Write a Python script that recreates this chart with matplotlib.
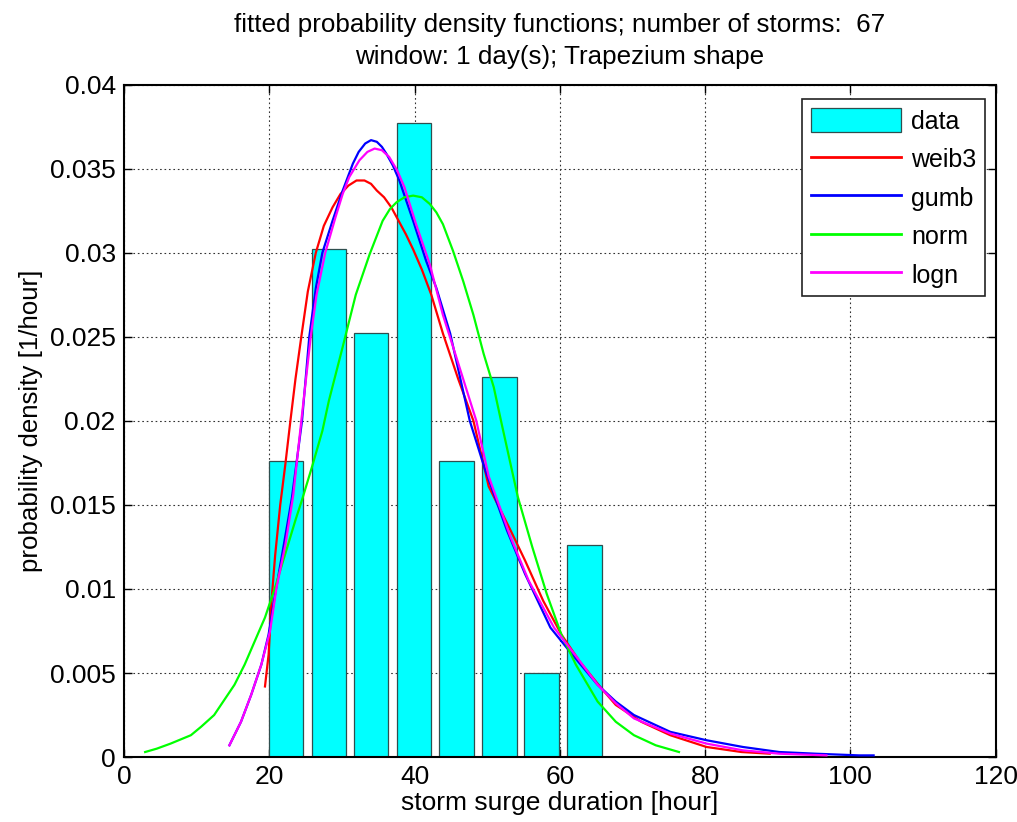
import numpy as np
import matplotlib
matplotlib.use("Agg")
import matplotlib.pyplot as plt
from matplotlib.patches import Patch
from matplotlib.lines import Line2D

plt.rcParams['font.family'] = ['Liberation Sans', 'DejaVu Sans']

# histogram of storm surge durations (density)
bin_centers = [22.3, 28.2, 34.0, 39.9, 45.8, 51.7, 57.5, 63.4]
bin_density = [0.0176, 0.0302, 0.0252, 0.0377, 0.0176, 0.0226, 0.0050, 0.0126]
bar_width = 4.75

# fitted pdfs, points
weib3_x = [19.4, 19.9, 20.3, 20.8, 21.5, 22.2, 22.9, 23.6, 24.4, 25.3, 26.4, 27.5, 28.7,
           29.8, 30.9, 32.0, 33.1, 34.0, 34.8, 35.8, 36.8, 37.8, 38.8, 39.8, 41.0, 42.3,
           43.9, 46.0, 48.1, 50.2, 53.2, 55.2, 57.7, 60.2, 62.7, 65.7, 67.7, 71.2, 75.2,
           80.2, 85.0, 88.9]
weib3_y = [0.0042, 0.0061, 0.0093, 0.0120, 0.0150, 0.0174, 0.0200, 0.0225, 0.0250, 0.0277,
           0.0300, 0.0316, 0.0327, 0.0335, 0.0340, 0.0343, 0.0343, 0.0341, 0.0337, 0.0333,
           0.0327, 0.0319, 0.0311, 0.0302, 0.0290, 0.0275, 0.0252, 0.0225, 0.0200, 0.0161,
           0.0135, 0.0117, 0.0093, 0.0073, 0.0057, 0.0041, 0.0031, 0.0021, 0.0013, 0.0006,
           0.0003, 0.0002]

gumb_x = [14.5, 16.1, 17.5, 18.9, 19.9, 20.8, 21.9, 23.1, 24.5, 25.5, 26.4, 27.3, 28.7,
          30.1, 31.5, 32.3, 33.2, 34.0, 34.8, 35.5, 36.1, 37.0, 37.9, 39.8, 41.6, 43.0,
          44.9, 47.6, 49.7, 52.7, 55.2, 58.7, 61.7, 65.2, 67.7, 70.2, 75.2, 80.2, 85.2,
          90.2, 95.2, 101.2, 103.2]
gumb_y = [0.0007, 0.0021, 0.0037, 0.0055, 0.0073, 0.0097, 0.0124, 0.0154, 0.0200, 0.0250,
          0.0279, 0.0300, 0.0319, 0.0337, 0.0353, 0.0360, 0.0365, 0.0367, 0.0366, 0.0363,
          0.0359, 0.0352, 0.0343, 0.0319, 0.0295, 0.0279, 0.0252, 0.0200, 0.0171, 0.0135,
          0.0109, 0.0077, 0.0061, 0.0043, 0.0033, 0.0025, 0.0015, 0.0010, 0.0006, 0.0003,
          0.0002, 0.0001, 0.0001]

norm_x = [2.9, 4.5, 6.4, 9.2, 10.6, 12.4, 13.8, 15.2, 16.6, 18.0, 19.4, 20.8, 22.2, 23.6,
          24.5, 25.9, 27.3, 28.2, 30.1, 31.9, 33.8, 35.6, 36.6, 37.5, 38.6, 39.8, 41.0,
          42.1, 43.0, 43.9, 45.3, 46.7, 48.1, 49.5, 50.9, 52.0, 54.2, 56.2, 58.2, 60.2,
          62.2, 65.2, 67.7, 70.2, 73.2, 76.4]
norm_y = [0.0003, 0.0005, 0.0008, 0.0013, 0.0018, 0.0025, 0.0034, 0.0043, 0.0055, 0.0069,
          0.0083, 0.0101, 0.0121, 0.0141, 0.0153, 0.0173, 0.0194, 0.0212, 0.0244, 0.0275,
          0.0299, 0.0319, 0.0326, 0.0330, 0.0333, 0.0334, 0.0333, 0.0329, 0.0324, 0.0317,
          0.0301, 0.0283, 0.0263, 0.0240, 0.0220, 0.0198, 0.0155, 0.0125, 0.0097, 0.0073,
          0.0055, 0.0033, 0.0021, 0.0013, 0.0007, 0.0003]

logn_x = [14.5, 16.1, 17.5, 18.9, 20.1, 21.0, 22.2, 23.3, 24.4, 25.7, 26.5, 27.7, 29.1,
          30.1, 31.0, 32.4, 33.5, 34.5, 35.5, 36.5, 37.6, 38.6, 40.2, 42.1, 43.9, 45.3,
          48.5, 50.2, 53.2, 55.7, 59.2, 61.7, 65.2, 67.7, 70.2, 75.2, 80.2, 85.2, 90.2, 96.7]
logn_y = [0.0007, 0.0021, 0.0037, 0.0055, 0.0075, 0.0101, 0.0126, 0.0156, 0.0200, 0.0250,
          0.0275, 0.0300, 0.0321, 0.0335, 0.0345, 0.0355, 0.0360, 0.0362, 0.0361, 0.0357,
          0.0349, 0.0339, 0.0317, 0.0293, 0.0263, 0.0244, 0.0200, 0.0167, 0.0131, 0.0105,
          0.0077, 0.0063, 0.0043, 0.0032, 0.0023, 0.0014, 0.0008, 0.0004, 0.0002, 0.0001]

fig = plt.figure(figsize=(10.17, 8.22), dpi=100)
ax = fig.add_axes([0.122, 0.079, 0.857, 0.818])

ax.bar(bin_centers, bin_density, width=bar_width, color='#00ffff',
       edgecolor='#2f4f4f', linewidth=0.9, zorder=2)
ax.plot(weib3_x, weib3_y, color='#ff0000', lw=1.6, zorder=3)
ax.plot(gumb_x, gumb_y, color='#0000ff', lw=1.6, zorder=3)
ax.plot(norm_x, norm_y, color='#00ff00', lw=1.6, zorder=3)
ax.plot(logn_x, logn_y, color='#ff00ff', lw=1.6, zorder=3)

ax.set_xlim(0, 120)
ax.set_ylim(0, 0.04)
ax.set_xticks(np.arange(0, 121, 20))
ax.set_yticks(np.arange(0, 0.0401, 0.005))
ax.set_yticklabels(['0', '0.005', '0.01', '0.015', '0.02', '0.025', '0.03', '0.035', '0.04'])
ax.grid(True, color='#333333', linestyle=(0, (1.5, 2.5)), linewidth=0.8, zorder=0)
ax.set_axisbelow(True)
ax.tick_params(direction='in', length=6, width=1, labelsize=19, top=True, right=True, pad=6)
for s in ax.spines.values():
    s.set_linewidth(1.5)

ax.set_xlabel('storm surge duration [hour]', fontsize=19, labelpad=1)
ax.set_ylabel('probability density [1/hour]', fontsize=18.6, labelpad=5)
ax.set_title('fitted probability density functions; number of storms:  67\n'
             'window: 1 day(s); Trapezium shape', fontsize=18.7, pad=15, linespacing=1.4)

handles = [Patch(facecolor='#00ffff', edgecolor='#2f4f4f', linewidth=0.9),
           Line2D([], [], color='#ff0000', lw=2),
           Line2D([], [], color='#0000ff', lw=2),
           Line2D([], [], color='#00ff00', lw=2),
           Line2D([], [], color='#ff00ff', lw=2)]
leg = ax.legend(handles, ['data', 'weib3', 'gumb', 'norm', 'logn'], loc='upper right',
                bbox_to_anchor=(0.988, 0.978), borderaxespad=0, fontsize=18,
                handlelength=3.6, handleheight=1.1, handletextpad=0.4,
                labelspacing=0.52, borderpad=0.35, fancybox=False, framealpha=1)
leg.get_frame().set_edgecolor('#222222')
leg.get_frame().set_linewidth(1.2)

fig.savefig('out.png', dpi=100)
